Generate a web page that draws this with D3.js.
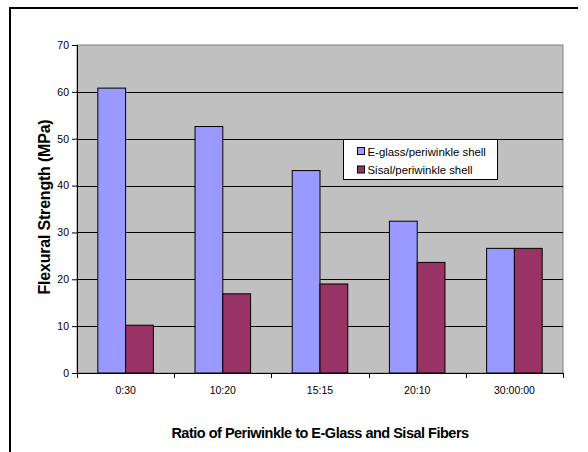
<!DOCTYPE html>
<html>
<head>
<meta charset="utf-8">
<script src="https://cdn.jsdelivr.net/npm/d3@7"></script>
<style>
  html, body { margin: 0; padding: 0; background: #fff; }
  svg { display: block; font-family: "Liberation Sans", Arial, sans-serif; }
</style>
</head>
<body>
<svg id="chart" width="588" height="452"></svg>
<script>
// Flexural strength by periwinkle : fiber ratio
const categories = ["0:30", "10:20", "15:15", "20:10", "30:00:00"];
const seriesNames = ["E-glass/periwinkle shell", "Sisal/periwinkle shell"];
const eglass = [60.8, 52.6, 43.2, 32.4, 26.6];
const sisal = [10.2, 16.9, 19.0, 23.6, 26.6];
const yTicks = [0, 10, 20, 30, 40, 50, 60, 70];
const colors = ["#9999FF", "#993366"];

const svg = d3.select("#chart");
const plot = { left: 77, top: 45, right: 563, bottom: 373 };

// outer chart frame (left and top edges)
svg.append("path")
  .attr("d", "M10,452 L10,8 L578,8")
  .attr("fill", "none").attr("stroke", "#000").attr("stroke-width", 2);

const x0 = d3.scaleBand().domain(categories).range([plot.left, plot.right]).paddingInner(0).paddingOuter(0);
const x1 = d3.scaleBand().domain([0, 1]).range([0, x0.bandwidth()]).paddingOuter(0.75).paddingInner(0);
const y = d3.scaleLinear().domain([0, 70]).range([plot.bottom, plot.top]);

// plot background
svg.append("rect")
  .attr("x", plot.left).attr("y", plot.top)
  .attr("width", plot.right - plot.left).attr("height", plot.bottom - plot.top)
  .attr("fill", "#C0C0C0").attr("stroke", "#808080").attr("stroke-width", 1);

// gridlines
svg.append("g").selectAll("line")
  .data(yTicks.filter(t => t > 0 && t < 70))
  .join("line")
  .attr("x1", plot.left).attr("x2", plot.right)
  .attr("y1", d => Math.round(y(d)) + 0.5).attr("y2", d => Math.round(y(d)) + 0.5)
  .attr("stroke", "#000").attr("stroke-width", 1);

// bars
const rows = categories.map((c, i) => ({ c, vals: [eglass[i], sisal[i]] }));
const groups = svg.append("g").selectAll("g")
  .data(rows).join("g")
  .attr("transform", d => `translate(${x0(d.c)},0)`);
groups.selectAll("rect")
  .data(d => d.vals.map((v, k) => ({ v, k })))
  .join("rect")
  .attr("x", d => x1(d.k))
  .attr("width", x1.bandwidth())
  .attr("y", d => y(d.v))
  .attr("height", d => y(0) - y(d.v))
  .attr("fill", d => colors[d.k])
  .attr("stroke", "#000").attr("stroke-width", 1);

// y axis
const yAxis = svg.append("g")
  .attr("transform", `translate(${plot.left},0)`)
  .call(d3.axisLeft(y).tickValues(yTicks).tickSize(5).tickPadding(3));
yAxis.select(".domain").attr("stroke", "#000");
yAxis.selectAll("text").attr("font-size", 10.5).attr("fill", "#000")
  .attr("font-family", "'Liberation Sans', Arial, sans-serif");

// x axis with ticks between categories
const xAxis = svg.append("g").attr("transform", `translate(0,${plot.bottom})`);
xAxis.append("line")
  .attr("x1", plot.left).attr("x2", plot.right)
  .attr("y1", 0.5).attr("y2", 0.5).attr("stroke", "#000");
xAxis.selectAll("line.tick")
  .data(categories.concat(["end"]))
  .join("line").attr("class", "tick")
  .attr("x1", (d, i) => Math.round(plot.left + i * x0.bandwidth()) + 0.5)
  .attr("x2", (d, i) => Math.round(plot.left + i * x0.bandwidth()) + 0.5)
  .attr("y1", 0).attr("y2", 5).attr("stroke", "#000");
xAxis.selectAll("text")
  .data(categories).join("text")
  .attr("x", d => x0(d) + x0.bandwidth() / 2)
  .attr("y", 21)
  .attr("text-anchor", "middle")
  .attr("font-size", 10.5).attr("fill", "#000")
  .text(d => d);

// axis titles
svg.append("text")
  .attr("transform", `translate(50,207) rotate(-90)`)
  .attr("text-anchor", "middle")
  .attr("font-size", 16).attr("font-weight", "bold")
  .attr("letter-spacing", -0.2)
  .text("Flexural Strength (MPa)");
svg.append("text")
  .attr("x", (plot.left + plot.right) / 2).attr("y", 438)
  .attr("text-anchor", "middle")
  .attr("font-size", 14.5).attr("font-weight", "bold")
  .attr("letter-spacing", -0.5)
  .text("Ratio of Periwinkle to E-Glass and Sisal Fibers");

// legend
const legend = svg.append("g").attr("transform", "translate(343.5,139.5)");
legend.append("rect")
  .attr("width", 154).attr("height", 40)
  .attr("fill", "#fff").attr("stroke", "#000").attr("stroke-width", 1);
const items = legend.selectAll("g.item")
  .data(seriesNames).join("g").attr("class", "item")
  .attr("transform", (d, i) => `translate(0,${11.5 + i * 18.5})`);
items.append("rect")
  .attr("x", 14).attr("y", -3.5).attr("width", 7).attr("height", 7)
  .attr("fill", (d, i) => colors[i]).attr("stroke", "#000").attr("stroke-width", 1);
items.append("text")
  .attr("x", 24).attr("y", 4.5)
  .attr("font-size", 11.4).attr("fill", "#000")
  .text(d => d);
</script>
</body>
</html>
